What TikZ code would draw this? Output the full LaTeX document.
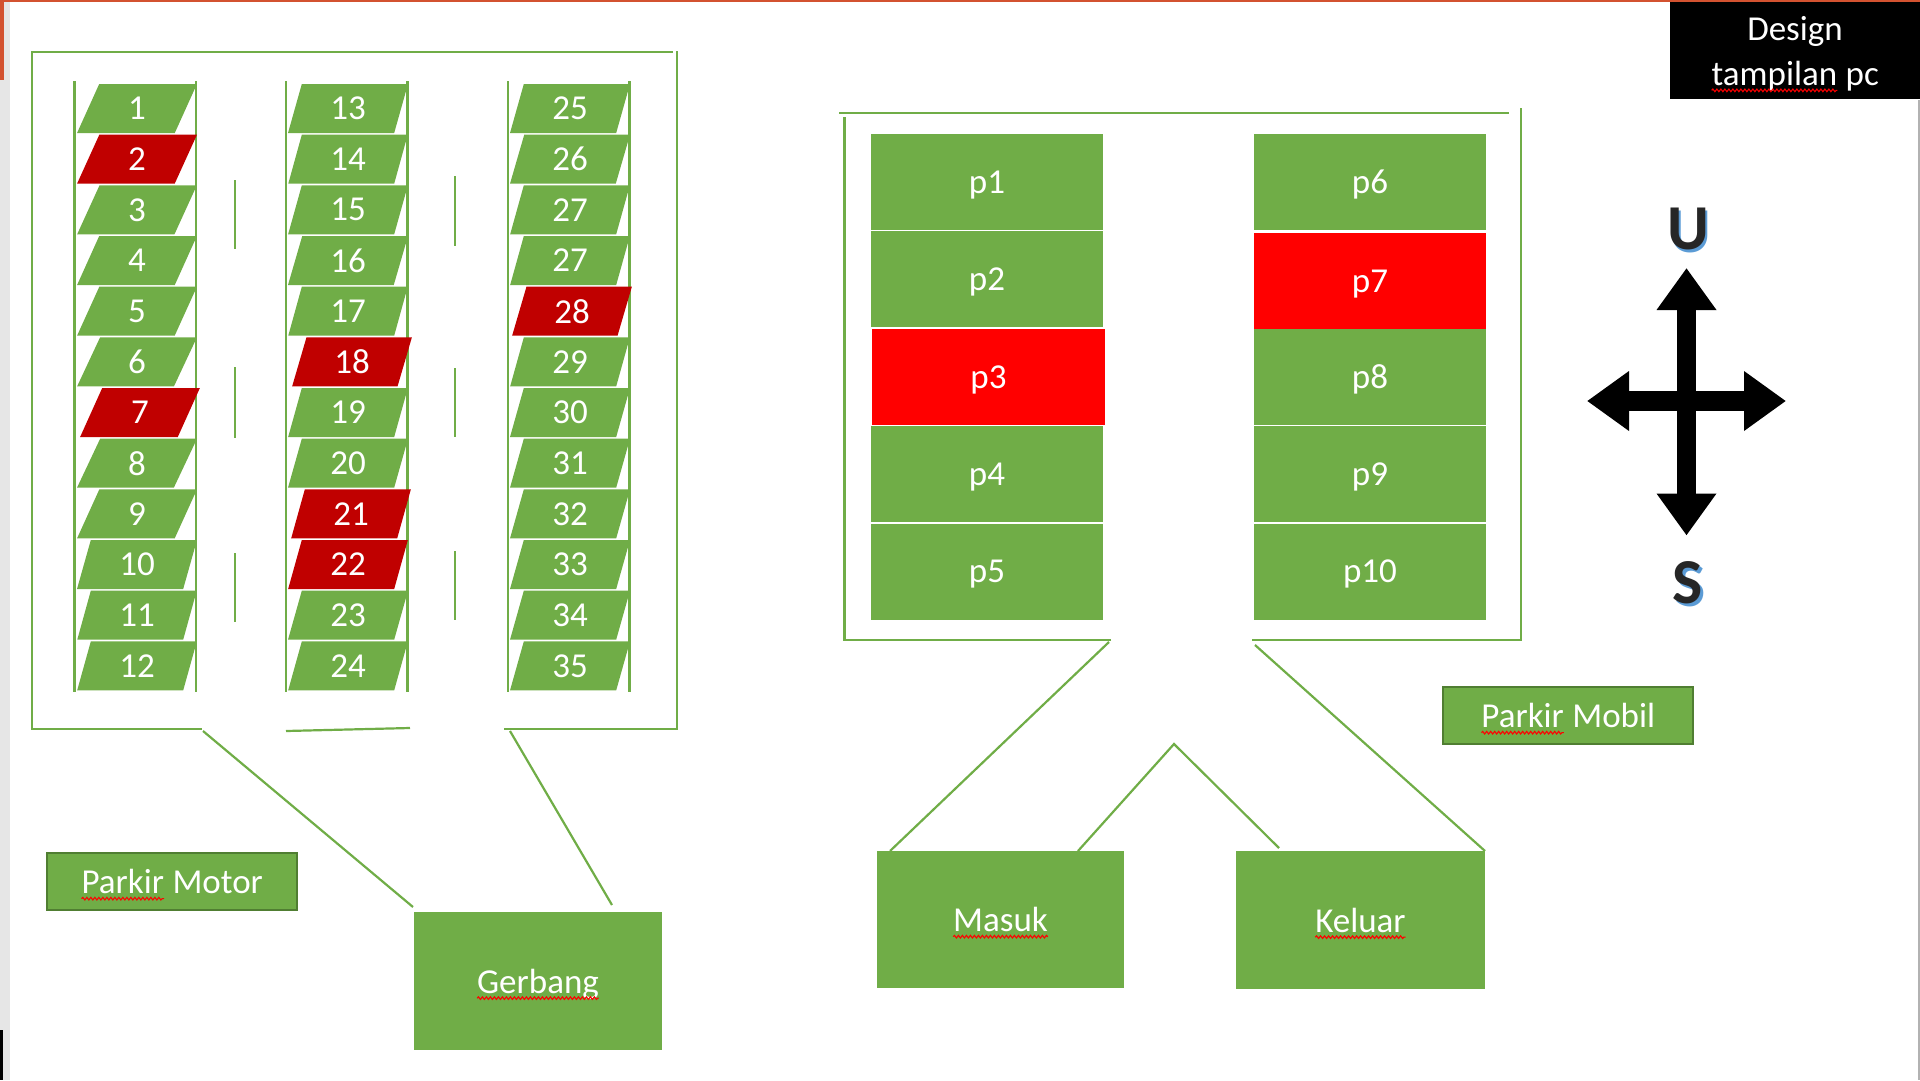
\documentclass[tikz,border=0pt]{standalone}
\usepackage{fontspec}
\setmainfont{Carlito}
\usetikzlibrary{shapes.geometric}
\usetikzlibrary{arrows.meta}
\usetikzlibrary{decorations.pathmorphing}

\definecolor{hijau}{HTML}{70AD47}
\definecolor{hijautua}{HTML}{507E32}
\definecolor{merahtua}{HTML}{C00000}
\definecolor{merah}{HTML}{FF0000}
\definecolor{biru}{HTML}{5B9BD5}
\definecolor{abu}{HTML}{E6E6E6}
\definecolor{oranye}{HTML}{D35230}

% kata bergaris merah
\newcommand{\salah}[1]{\tikz[baseline=(kata.base)]{\path node (kata) [rectangle,draw=none,fill=none,inner sep=0pt,outer sep=0pt,minimum width=0pt,minimum height=0pt,text=white] {#1};\draw[draw=red,line width=1.1pt,decorate,decoration={snake,amplitude=1.3pt,segment length=4pt}] ([yshift=-5pt]kata.base west) -- ([yshift=-5pt]kata.base east);}}

\begin{document}
\begin{tikzpicture}[x=1pt,y=-1pt,
	garis/.style={draw=hijau,line width=2.8pt},
	miring/.style={draw=hijau,line width=2.2pt},
	slot/.style={trapezium,trapezium left angle=77,trapezium right angle=103,trapezium stretches=true,minimum width=120pt,minimum height=49pt,inner sep=0pt,outer sep=0pt,fill=hijau,text=white,font=\fontsize{35}{42}\selectfont},
	penuh/.style={slot,fill=merahtua},
	petak/.style={rectangle,minimum width=232pt,minimum height=96pt,inner sep=0pt,outer sep=0pt,fill=hijau,text=white,text depth=0pt,font=\fontsize{35}{42}\selectfont},
	kotak/.style={rectangle,minimum width=248pt,minimum height=138pt,inner sep=0pt,outer sep=0pt,fill=hijau,text=white,text depth=0pt,font=\fontsize{35}{42}\selectfont},
	label/.style={kotak,draw=hijautua,line width=2.5pt,minimum width=250pt,minimum height=57pt},
	huruf/.style={text=black!85,inner sep=0pt,font=\fontsize{64}{64}\selectfont\bfseries},
	panah/.style={line width=19.5pt,{Triangle[length=42pt,width=57pt]}-{Triangle[length=42pt,width=57pt]}}]
	\useasboundingbox (0,0) rectangle (1920,1080);

	% tepi layar
	\fill[abu] (0,0) rectangle (10,1080);
	\fill[oranye] (0,0) rectangle (1920,2);
	\fill[oranye] (0,0) rectangle (3.5,80);
	\fill[black] (0,1030) rectangle (2.5,1080);
	\fill[black!30] (1918,100) rectangle (1920,1080);

	% parkir motor
	\draw[garis] (202,729) -- (32,729) -- (32,52) -- (673,52);
	\draw[garis] (677,51) -- (677,729) -- (504,729);
	\draw[miring] (286,731) -- (410,728);

	\draw[garis] (74.5,81) -- (74.5,692);
	\draw[garis] (196,81) -- (196,692);
	\draw[garis] (286,81) -- (286,692);
	\draw[garis] (407.5,81) -- (407.5,692);
	\draw[garis] (508,81) -- (508,692);
	\draw[garis] (629.5,81) -- (629.5,692);

	\draw[miring] (235,180) -- (235,249);
	\draw[miring] (235,367) -- (235,438);
	\draw[miring] (235,553) -- (235,622);
	\draw[miring] (455,176) -- (455,246);
	\draw[miring] (455,368) -- (455,437);
	\draw[miring] (455,551) -- (455,620);

	\draw (137,108.5) node (m1) [slot] {1};
	\draw (137,159.2) node (m2) [penuh] {2};
	\draw (137,209.8) node (m3) [slot] {3};
	\draw (137,260.5) node (m4) [slot] {4};
	\draw (137,311.2) node (m5) [slot] {5};
	\draw (137,361.9) node (m6) [slot] {6};
	\draw (140,412.5) node (m7) [penuh] {7};
	\draw (137,463.2) node (m8) [slot] {8};
	\draw (137,513.9) node (m9) [slot] {9};
	\draw (137,564.5) node (m10) [slot] {10};
	\draw (137,615.2) node (m11) [slot] {11};
	\draw (137,665.9) node (m12) [slot] {12};

	\draw (348,108.5) node (m13) [slot] {13};
	\draw (348,159.2) node (m14) [slot] {14};
	\draw (348,209.8) node (m15) [slot] {15};
	\draw (348,260.5) node (m16) [slot] {16};
	\draw (348,311.2) node (m17) [slot] {17};
	\draw (352,361.9) node (m18) [penuh] {18};
	\draw (348,412.5) node (m19) [slot] {19};
	\draw (348,463.2) node (m20) [slot] {20};
	\draw (351,513.9) node (m21) [penuh] {21};
	\draw (348,564.5) node (m22) [penuh] {22};
	\draw (348,615.2) node (m23) [slot] {23};
	\draw (348,665.9) node (m24) [slot] {24};

	\draw (570,108.5) node (m25) [slot] {25};
	\draw (570,159.2) node (m26) [slot] {26};
	\draw (570,209.8) node (m27) [slot] {27};
	\draw (570,260.5) node (m27b) [slot] {27};
	\draw (572,311.2) node (m28) [penuh] {28};
	\draw (570,361.9) node (m29) [slot] {29};
	\draw (570,412.5) node (m30) [slot] {30};
	\draw (570,463.2) node (m31) [slot] {31};
	\draw (570,513.9) node (m32) [slot] {32};
	\draw (570,564.5) node (m33) [slot] {33};
	\draw (570,615.2) node (m34) [slot] {34};
	\draw (570,665.9) node (m35) [slot] {35};

	\draw (172,881.5) node (motor) [label] {\salah{Parkir} Motor};
	\draw (538,981) node (gerbang) [kotak] {\salah{Gerbang}};

	\coordinate (gm1) at (203,731);
	\coordinate (gm2) at (510,731);
	\draw[miring] (gm1) -- ([xshift=-1pt,yshift=5pt]gerbang.north west);
	\draw[miring] (gm2) -- ([xshift=-50pt,yshift=7pt]gerbang.north east);

	% parkir mobil
	\draw[garis] (1111,640) -- (844.5,640) -- (844.5,117);
	\draw[garis] (839,113) -- (1509,113);
	\draw[garis] (1521,108) -- (1521,640) -- (1252,640);

	\draw (987,182) node (p1) [petak] {p1};
	\draw (987,279.4) node (p2) [petak] {p2};
	\draw (988.5,376.8) node (p3) [petak,fill=merah,minimum width=233pt] {p3};
	\draw (987,474.2) node (p4) [petak] {p4};
	\draw (987,571.6) node (p5) [petak] {p5};
	\draw (1370,182) node (p6) [petak] {p6};
	\draw (1370,281) node (p7) [petak,fill=merah] {p7};
	\draw (1370,376.8) node (p8) [petak] {p8};
	\draw (1370,474.2) node (p9) [petak] {p9};
	\draw (1370,571.6) node (p10) [petak] {p10};

	\draw (1000.5,919.5) node (masuk) [kotak,minimum width=247pt,minimum height=137pt] {\salah{Masuk}};
	\draw (1360.5,920) node (keluar) [kotak,minimum width=249pt] {\salah{Keluar}};
	\draw (1568,715.5) node (mobil) [label] {\salah{Parkir} Mobil};

	\coordinate (ka) at (1109,642);
	\coordinate (kb) at (1255,645);
	\coordinate (puncak) at (1174,744);
	\draw[miring] (ka) -- ([xshift=13pt]masuk.north west);
	\draw[miring] ([xshift=-46pt]masuk.north east) -- (puncak) -- ([xshift=43pt,yshift=3pt]keluar.north west);
	\draw[miring] (kb) -- (keluar.north east);

	% arah
	\coordinate (utara) at (1686.5,268);
	\coordinate (selatan) at (1686.5,535.5);
	\coordinate (barat) at (1587,401);
	\coordinate (timur) at (1786,401);
	\draw[panah] (selatan) -- (utara);
	\draw[panah] (barat) -- (timur);
	\draw (1690.5,232) node (bayangU) [huruf,text=biru] {U};
	\draw (1688,229) node (U) [huruf] {U};
	\draw (1690.5,586) node (bayangS) [huruf,text=biru] {S};
	\draw (1688,583) node (S) [huruf] {S};

	% judul
	\draw (1795,50.5) node (judul) [rectangle,fill=black,minimum width=250pt,minimum height=97pt,inner sep=0pt] {};
	\draw ([yshift=-4pt]judul.center) node (teksjudul) [text=white,align=center,inner sep=0pt,font=\fontsize{35}{44.5}\selectfont] {Design\\\salah{tampilan} pc};
\end{tikzpicture}
\end{document}
